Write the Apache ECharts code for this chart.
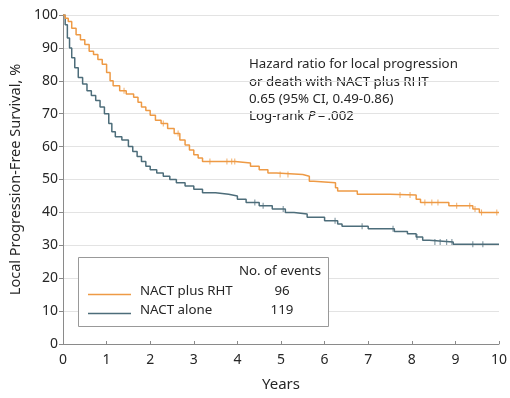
<!DOCTYPE html>
<html><head><meta charset="utf-8">
<script src="https://cdn.jsdelivr.net/npm/echarts@6/dist/echarts.min.js"></script>
<style>html,body{margin:0;padding:0;background:#fff}#c{width:510px;height:398px}</style>
</head><body><div id="c"></div>
<script>
// Kaplan-Meier step data: [years, survival %]
var rhtTimes = [0,0.05,0.12,0.2,0.3,0.4,0.5,0.6,0.7,0.8,0.9,1.0,1.08,1.15,1.3,1.45,1.62,1.72,1.8,1.9,2.0,2.12,2.25,2.4,2.55,2.68,2.8,2.9,3.0,3.1,3.2,3.95,4.3,4.5,4.7,4.9,5.5,5.65,5.75,6.25,6.3,6.75,7.5,8.1,8.2,8.85,9.4,9.55,10];
var rhtValues = [100,99,98,96,94,92.5,91,89,88,86.5,85,82.5,80,78.5,77,76,75,73.5,72,71,69.5,68,67,65.5,64,62,60.5,59,57.5,56.5,55.5,55,54,53,52,51.5,51,49.5,49,47.5,46.5,45.5,45.3,44,43,42,41,40,40];
var aloneTimes = [0,0.05,0.1,0.15,0.2,0.27,0.35,0.45,0.55,0.65,0.75,0.85,0.95,1.05,1.12,1.2,1.35,1.5,1.6,1.7,1.8,1.9,2.0,2.15,2.3,2.45,2.6,2.8,3.0,3.2,3.5,3.8,4.0,4.2,4.5,4.8,5.1,5.3,5.6,6.0,6.3,6.4,7.0,7.6,7.9,8.1,8.25,8.4,8.95,10];
var aloneValues = [100,97,93,90,87,84,81,79,77,75.5,74,72,70,67,64.5,63,62,60,58.5,57,55.5,54,53,52,51,50,49,48,47,46,45.5,45,44,43,42,41,40,39.5,38.5,37.5,36.5,35.8,35,34.2,33.5,32.5,31.5,31,30.3,30.3];
// censoring times
var rhtCensor = [1.4,2.3,2.64,3.37,3.76,3.87,3.94,4.98,5.16,7.73,7.96,8.3,8.46,8.6,9.03,9.33,9.45,9.6,9.95];
var aloneCensor = [4.4,4.59,5.05,6.24,6.86,7.57,8.12,8.53,8.65,8.8,8.92,9.4,9.63];
var yTicks = [0,10,20,30,40,50,60,70,80,90,100];
var xTicks = [0,1,2,3,4,5,6,7,8,9,10];
var seriesNames = ['NACT plus RHT','NACT alone'];
var events = [96,119];
var annotation = ['Hazard ratio for local progression','or death with NACT plus RHT','0.65 (95% CI, 0.49-0.86)','Log-rank {i|P}\u2009=\u2009.002'];

var ORANGE = '#EE9A45', BLUE = '#4D6D7A', FONT = 'Noto Sans', TXT = '#262626';
function pairs(t, v){ return t.map(function(x,i){return [x, v[i]];}); }
function lookup(t, v, x){ var y = v[0]; for (var i=0;i<t.length;i++){ if (t[i] <= x) y = v[i]; } return y; }
function censorPts(c, t, v){ return c.map(function(x){ return [x, lookup(t, v, x)]; }); }

var chart = echarts.init(document.getElementById('c'), null, {renderer:'canvas'});
var gridL = 63, gridT = 15, gridR = 11, gridB = 54;
var FS = 13.3;
var F = FS + 'px "'+FONT+'"';
chart.setOption({
  animation:false,
  textStyle:{fontFamily:FONT},
  grid:{left:gridL, top:gridT, right:gridR, bottom:gridB},
  xAxis:{type:'value', min:0, max:10, interval:1,
    name:'Years', nameLocation:'middle', nameGap:33,
    nameTextStyle:{fontSize:15, color:TXT, fontFamily:FONT},
    axisLine:{lineStyle:{color:'#8a8a8a', width:1}},
    axisTick:{inside:true, length:3, lineStyle:{color:'#8a8a8a'}},
    axisLabel:{fontSize:14, color:TXT, margin:9, fontFamily:FONT},
    splitLine:{show:false}},
  yAxis:{type:'value', min:0, max:100, interval:10,
    name:'Local Progression-Free Survival, %', nameLocation:'middle', nameGap:33,
    nameTextStyle:{fontSize:14.5, color:TXT, fontFamily:FONT},
    axisLine:{show:true, lineStyle:{color:'#8a8a8a', width:1}},
    axisTick:{show:true, length:4, lineStyle:{color:'#8a8a8a'}},
    axisLabel:{fontSize:14, color:TXT, margin:5, fontFamily:FONT},
    splitLine:{show:true, lineStyle:{color:'#e3e3e3', width:1}}},
  series:[
    {name:seriesNames[1], type:'line', step:'end', data:pairs(aloneTimes, aloneValues), showSymbol:false, lineStyle:{color:BLUE, width:1.5}, z:3},
    {name:seriesNames[0], type:'line', step:'end', data:pairs(rhtTimes, rhtValues), showSymbol:false, lineStyle:{color:ORANGE, width:1.5}, z:3},
    {type:'scatter', data:censorPts(aloneCensor, aloneTimes, aloneValues), symbol:'rect', symbolSize:[1,6], itemStyle:{color:BLUE}, z:4},
    {type:'scatter', data:censorPts(rhtCensor, rhtTimes, rhtValues), symbol:'rect', symbolSize:[1,6], itemStyle:{color:ORANGE}, z:4}
  ],
  graphic:[
    {type:'group', left:249, top:58, children: annotation.map(function(s,i){
      return {type:'text', x:0, y:i*17.4, style:{text:s, fontSize:FS, fontFamily:FONT, fill:TXT,
        rich:{i:{fontStyle:'italic', fontSize:FS, fontFamily:FONT, fill:TXT}}}};
    })},
    {type:'rect', shape:{x:78.5, y:257.5, width:250, height:69}, style:{fill:'#fff', stroke:'#999', lineWidth:1}, z:10},
    {type:'text', x:321, y:265, style:{text:'No. of events', font:F, fill:TXT, textAlign:'right'}, z:11},
    {type:'line', shape:{x1:88, y1:294.5, x2:131, y2:294.5}, style:{stroke:ORANGE, lineWidth:1.4}, z:11},
    {type:'line', shape:{x1:88, y1:313.5, x2:131, y2:313.5}, style:{stroke:BLUE, lineWidth:1.4}, z:11},
    {type:'text', x:140, y:285, style:{text:seriesNames[0], font:F, fill:TXT}, z:11},
    {type:'text', x:140, y:304, style:{text:seriesNames[1], font:F, fill:TXT}, z:11},
    {type:'text', x:282, y:285, style:{text:String(events[0]), font:F, fill:TXT, textAlign:'center'}, z:11},
    {type:'text', x:282, y:304, style:{text:String(events[1]), font:F, fill:TXT, textAlign:'center'}, z:11}
  ]
});
</script></body></html>
